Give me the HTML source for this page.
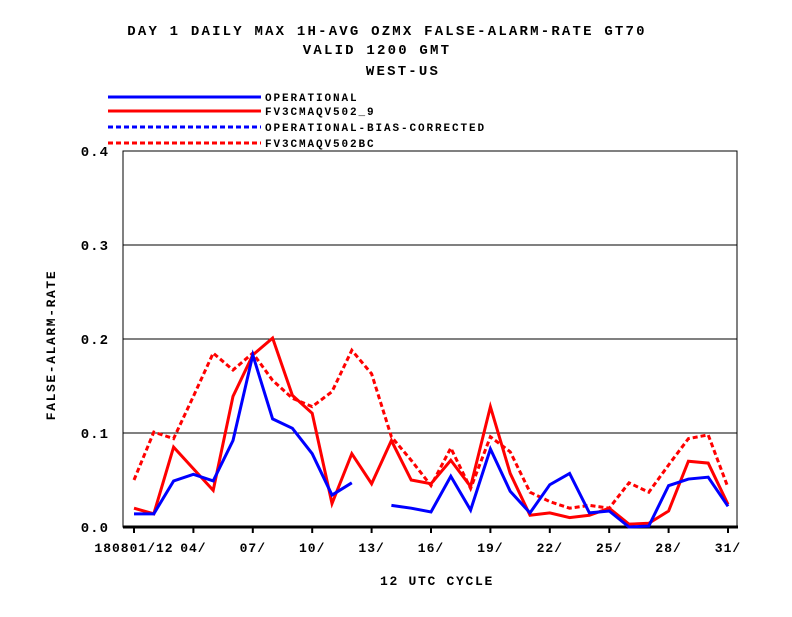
<!DOCTYPE html>
<html><head><meta charset="utf-8"><style>
body{margin:0;background:#fff}
svg text{font-family:"Liberation Mono",monospace;font-weight:bold;fill:#000}
</style></head><body>
<svg width="792" height="612" xmlns="http://www.w3.org/2000/svg">
<g font-size="14" text-anchor="middle" letter-spacing="2.2">
<text x="387" y="35">DAY 1 DAILY MAX   1H-AVG OZMX FALSE-ALARM-RATE GT70</text>
<text x="377" y="54">VALID 1200 GMT</text>
<text x="403" y="75">WEST-US</text>
</g>
<g id="legend" font-size="11" letter-spacing="1.9"></g>
<g id="plot"></g>
<text x="437" y="585" font-size="13" text-anchor="middle" letter-spacing="1.7">12 UTC CYCLE</text>
<text transform="translate(55,345) rotate(-90)" font-size="13" text-anchor="middle" letter-spacing="1.6">FALSE-ALARM-RATE</text>
</svg>
<script>
const days=[1,2,3,4,5,6,7,8,9,10,11,12,13,14,15,16,17,18,19,20,21,22,23,24,25,26,27,28,29,30,31];
const operational=[.014,.014,.049,.056,.049,.092,.183,.115,.105,.078,.034,.047,null,.023,.020,.016,.054,.018,.083,.038,.015,.045,.057,.015,.017,0,.001,.044,.051,.053,.022];
const fv3=[.020,.014,.085,.062,.039,.139,.183,.201,.140,.121,.025,.078,.046,.092,.050,.046,.071,.043,.128,.057,.0125,.015,.010,.0125,.020,.003,.004,.017,.070,.068,.024];
const operationalBC=[];
const fv3BC=[.050,.101,.094,.139,.185,.167,.185,.156,.137,.128,.144,.188,.163,.096,.071,.044,.084,.041,.096,.080,.037,.027,.020,.023,.020,.047,.037,.066,.094,.098,.042];
const yTicks=[0,0.1,0.2,0.3,0.4];
const yLabels=["0.0","0.1","0.2","0.3","0.4"];
const xTickDays=[1,4,7,10,13,16,19,22,25,28,31];
const xLabels=["180801/12","04/","07/","10/","13/","16/","19/","22/","25/","28/","31/"];
const legendNames=["OPERATIONAL","FV3CMAQV502_9","OPERATIONAL-BIAS-CORRECTED","FV3CMAQV502BC"];
const NS="http://www.w3.org/2000/svg";
const X=d=>134+(d-1)*19.8, Y=v=>527-v*940;
const plot=document.getElementById('plot');
function mk(tag,at,parent){const e=document.createElementNS(NS,tag);for(const k in at)e.setAttribute(k,at[k]);(parent||plot).appendChild(e);return e;}
yTicks.forEach((t,i)=>{
 if(t>0){const g=mk('line',{x1:123,x2:737,y1:Y(t),y2:Y(t),stroke:'#000','stroke-width':1});
 
 }
 const tx=mk('text',{x:109,y:Y(t)+5,'font-size':14,'text-anchor':'end','letter-spacing':1});tx.textContent=yLabels[i];
 
 
});
const fr=mk('rect',{x:123,y:151,width:614,height:376,fill:'none',stroke:'#000','stroke-width':1});


const xa=mk('line',{x1:123,x2:738,y1:527,y2:527,stroke:'#000','stroke-width':3});


xTickDays.forEach((d,i)=>{
 const t=mk('line',{x1:X(d),x2:X(d),y1:527,y2:533,stroke:'#000','stroke-width':2});
 
 
 const tx=mk('text',{x:X(d),y:552,'font-size':13,'text-anchor':'middle','letter-spacing':1});tx.textContent=xLabels[i];
 
 
});
function series(vals,color,dash,name){
 let segs=[],cur=[];
 vals.forEach((v,i)=>{if(v==null){if(cur.length)segs.push(cur);cur=[];}else cur.push(X(days[i])+','+Y(v));});
 if(cur.length)segs.push(cur);
 segs.forEach(s=>{const p=mk('polyline',{points:s.join(' '),fill:'none',stroke:color,'stroke-width':3,'stroke-dasharray':dash?'5,3':'none','stroke-linejoin':'miter'});
 
 });
}
series(fv3BC,'#f00',true,'series-fv3cmaqv502bc');
series(operationalBC,'#00f',true,'series-operational-bias-corrected');
series(fv3,'#f00',false,'series-fv3cmaqv502-9');
series(operational,'#00f',false,'series-operational');
const lg=document.getElementById('legend');
const lc=[['#00f',false],['#f00',false],['#00f',true],['#f00',true]];
const ly=[97,111,127,143];
legendNames.forEach((n,i)=>{
 const l=mk('line',{x1:108,x2:261,y1:ly[i],y2:ly[i],stroke:lc[i][0],'stroke-width':3,'stroke-dasharray':lc[i][1]?'5,3':'none'},lg);
 
 
 const t=mk('text',{x:265,y:ly[i]+4},lg);t.textContent=n;
 
 
});
</script>
</body></html>
